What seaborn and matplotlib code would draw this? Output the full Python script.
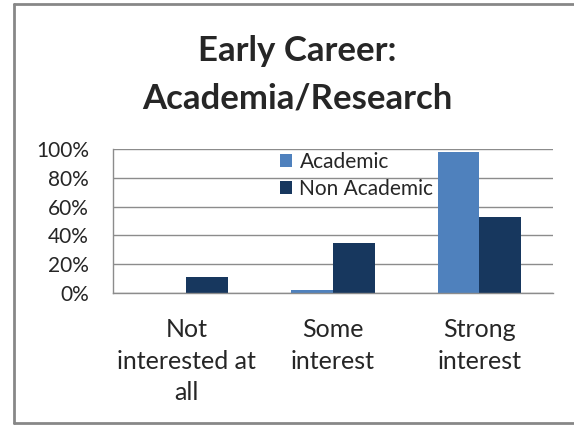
import matplotlib
matplotlib.use("Agg")
import matplotlib.pyplot as plt
from matplotlib.lines import Line2D
import pandas as pd
import seaborn as sns

categories = ["Not\ninterested at\nall", "Some\ninterest", "Strong\ninterest"]
academic = [0.0, 0.02, 0.98]
non_academic = [0.11, 0.35, 0.53]
series = ["Academic", "Non Academic"]
colors = ["#4F81BD", "#17375E"]

df = pd.DataFrame({
    "category": categories * 2,
    "value": academic + non_academic,
    "group": [series[0]] * 3 + [series[1]] * 3,
})

sns.set_style("white")
plt.rcParams["font.family"] = ["Lato", "DejaVu Sans"]

fig = plt.figure(figsize=(5.74, 4.25), dpi=100)
ax = fig.add_axes([0.197, 0.3106, 0.766, 0.3388])

sns.barplot(data=df, x="category", y="value", hue="group", palette=colors,
            width=0.57, saturation=1, ax=ax, edgecolor="none")

ax.set_xlim(-0.5, 2.5)
ax.set_ylim(0, 1.0)
ax.set_yticks([0, 0.2, 0.4, 0.6, 0.8, 1.0])
ax.set_yticklabels(["0%", "20%", "40%", "60%", "80%", "100%"], fontsize=15)
ax.yaxis.grid(True, color="#8c8c8c", lw=1)
ax.set_axisbelow(True)
ax.set_xlabel("")
ax.set_ylabel("")

ax.set_xticks([0, 1, 2])
ax.set_xticklabels(categories, fontsize=18, linespacing=1.45)
ax.set_xticks([-0.5, 0.5, 1.5, 2.5], minor=True)
ax.tick_params(axis="x", which="major", length=0, pad=18)
ax.tick_params(axis="x", which="minor", length=6, color="#8c8c8c", width=1, direction="out")
ax.tick_params(axis="y", length=6.5, color="#8c8c8c", width=1, direction="out", pad=11)

for s in ["top", "right"]:
    ax.spines[s].set_visible(False)
for s in ["left", "bottom"]:
    ax.spines[s].set_color("#8c8c8c")
    ax.spines[s].set_linewidth(1)

ax.legend(loc="upper left", bbox_to_anchor=(0.36, 1.04), frameon=False,
          fontsize=15, handlelength=0.6, handleheight=0.6, handletextpad=0.35,
          labelspacing=0.35, borderaxespad=0)

fig.text(0.518, 0.8235, "Early Career:\nAcademia/Research", ha="center", va="center",
         fontsize=25, fontweight="bold", linespacing=1.6)

# outer frame: left, top and bottom edges only (right edge is off the picture)
x0, y0, y1 = 13.5 / 574, 2 / 425, 1 - 4 / 425
for xs, ys in [([x0, x0], [y0, y1]), ([x0, 1.0], [y1, y1]), ([x0, 1.0], [y0, y0])]:
    fig.add_artist(Line2D(xs, ys, transform=fig.transFigure, color="#878787", lw=2))

fig.savefig("out.png", dpi=100)
